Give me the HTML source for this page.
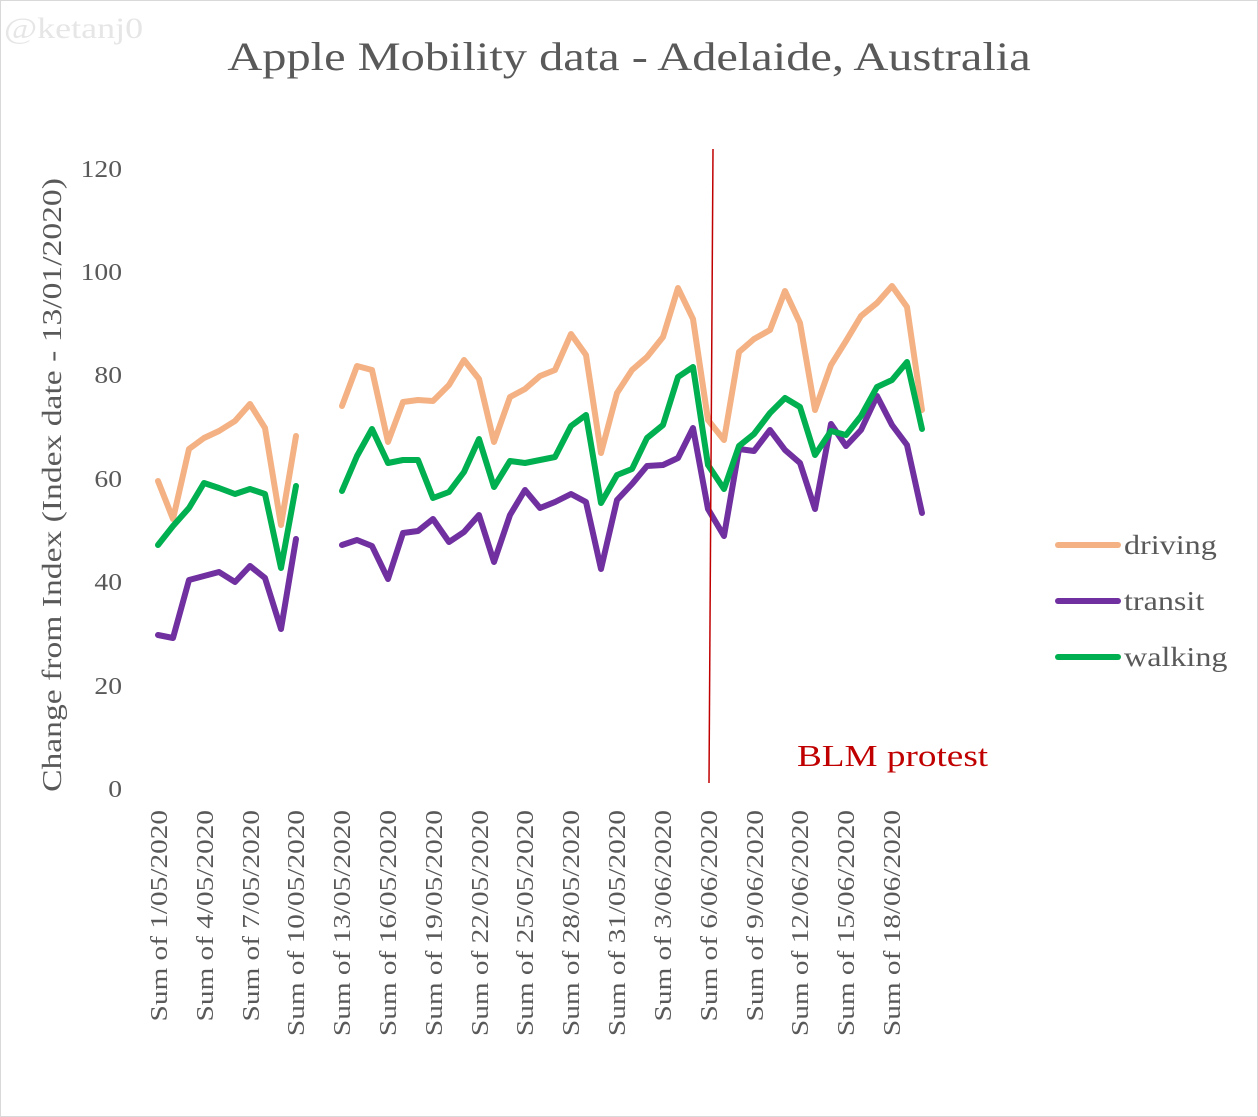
<!DOCTYPE html>
<html><head><meta charset="utf-8"><style>
html,body{margin:0;padding:0;background:#fff}
svg{display:block}
text{font-family:"Liberation Serif",serif;fill:#595959}
</style></head><body>
<svg width="1258" height="1117" viewBox="0 0 1258 1117" xmlns="http://www.w3.org/2000/svg">
<rect x="0.5" y="0.5" width="1257" height="1116" fill="#fff" stroke="#d9d9d9"/>
<text transform="translate(4,38) scale(1.2,1)" font-size="30" style="fill:#e6e6e6">@ketanj0</text>
<text transform="translate(629,70) scale(1.21,1)" font-size="40" text-anchor="middle">Apple Mobility data - Adelaide, Australia</text>
<g font-size="24" text-anchor="end">
<text transform="translate(122,797) scale(1.15,1)">0</text>
<text transform="translate(122,694) scale(1.15,1)">20</text>
<text transform="translate(122,590) scale(1.15,1)">40</text>
<text transform="translate(122,487) scale(1.15,1)">60</text>
<text transform="translate(122,383) scale(1.15,1)">80</text>
<text transform="translate(122,280) scale(1.15,1)">100</text>
<text transform="translate(122,177) scale(1.15,1)">120</text>
</g>
<text transform="translate(61,485) rotate(-90) scale(1.245,1)" font-size="27" text-anchor="middle">Change from Index (Index date - 13/01/2020)</text>
<g font-size="24" text-anchor="end">
<text transform="translate(167,810) rotate(-90) scale(1.22,1)">Sum of 1/05/2020</text>
<text transform="translate(213,810) rotate(-90) scale(1.22,1)">Sum of 4/05/2020</text>
<text transform="translate(259,810) rotate(-90) scale(1.22,1)">Sum of 7/05/2020</text>
<text transform="translate(304,810) rotate(-90) scale(1.22,1)">Sum of 10/05/2020</text>
<text transform="translate(350,810) rotate(-90) scale(1.22,1)">Sum of 13/05/2020</text>
<text transform="translate(396,810) rotate(-90) scale(1.22,1)">Sum of 16/05/2020</text>
<text transform="translate(442,810) rotate(-90) scale(1.22,1)">Sum of 19/05/2020</text>
<text transform="translate(488,810) rotate(-90) scale(1.22,1)">Sum of 22/05/2020</text>
<text transform="translate(533,810) rotate(-90) scale(1.22,1)">Sum of 25/05/2020</text>
<text transform="translate(579,810) rotate(-90) scale(1.22,1)">Sum of 28/05/2020</text>
<text transform="translate(625,810) rotate(-90) scale(1.22,1)">Sum of 31/05/2020</text>
<text transform="translate(671,810) rotate(-90) scale(1.22,1)">Sum of 3/06/2020</text>
<text transform="translate(717,810) rotate(-90) scale(1.22,1)">Sum of 6/06/2020</text>
<text transform="translate(763,810) rotate(-90) scale(1.22,1)">Sum of 9/06/2020</text>
<text transform="translate(808,810) rotate(-90) scale(1.22,1)">Sum of 12/06/2020</text>
<text transform="translate(854,810) rotate(-90) scale(1.22,1)">Sum of 15/06/2020</text>
<text transform="translate(900,810) rotate(-90) scale(1.22,1)">Sum of 18/06/2020</text>
</g>
<g fill="none" stroke-width="6" stroke-linejoin="round" stroke-linecap="round">
<polyline stroke="#f4b183" points="158,481 173,519 189,449 204,438 219,431 235,421 250,404 265,428 281,525 296,436"/>
<polyline stroke="#f4b183" points="342,406 357,366 372,370 388,442 403,402 418,400 433,401 449,385 464,360 479,379 494,442 510,397 525,389 540,376 555,370 571,334 586,355 601,453 617,393 632,370 647,357 663,337 678,288 693,319 708,420 724,440 739,352 754,339 770,330 785,291 800,323 815,410 831,365 846,341 861,316 877,303 892,286 907,307 922,410"/>
<polyline stroke="#7030a0" points="158,635 173,638 189,580 204,576 219,572 235,582 250,566 265,578 281,629 296,539"/>
<polyline stroke="#7030a0" points="342,545 357,540 372,546 388,579 403,533 418,531 433,519 449,542 464,532 479,515 494,562 510,515 525,490 540,508 555,502 571,494 586,502 601,569 617,500 632,484 647,466 663,465 678,458 693,428 708,509 724,536 739,449 754,451 770,430 785,450 800,463 815,509 831,424 846,446 861,430 877,396 892,425 907,445 922,513"/>
<polyline stroke="#00b050" points="158,545 173,526 189,508 204,483 219,488 235,494 250,489 265,494 281,568 296,486"/>
<polyline stroke="#00b050" points="342,491 357,456 372,429 388,463 403,460 418,460 433,498 449,492 464,472 479,439 494,487 510,461 525,463 540,460 555,457 571,426 586,415 601,503 617,475 632,469 647,438 663,425 678,377 693,367 708,465 724,489 739,446 754,434 770,413 785,398 800,407 815,455 831,431 846,435 861,416 877,387 892,380 907,362 922,429"/>
</g>
<line x1="713" y1="149" x2="709" y2="783" stroke="#c00000" stroke-width="1.5"/>
<text transform="translate(797,766) scale(1.2,1)" font-size="31" style="fill:#c00000">BLM protest</text>
<g stroke-width="6" stroke-linecap="round">
<line x1="1058" y1="545" x2="1118" y2="545" stroke="#f4b183"/>
<line x1="1058" y1="601" x2="1118" y2="601" stroke="#7030a0"/>
<line x1="1058" y1="657" x2="1118" y2="657" stroke="#00b050"/>
</g>
<g font-size="27">
<text transform="translate(1124,554) scale(1.19,1)">driving</text>
<text transform="translate(1124,610) scale(1.19,1)">transit</text>
<text transform="translate(1124,666) scale(1.19,1)">walking</text>
</g>
</svg>
</body></html>
